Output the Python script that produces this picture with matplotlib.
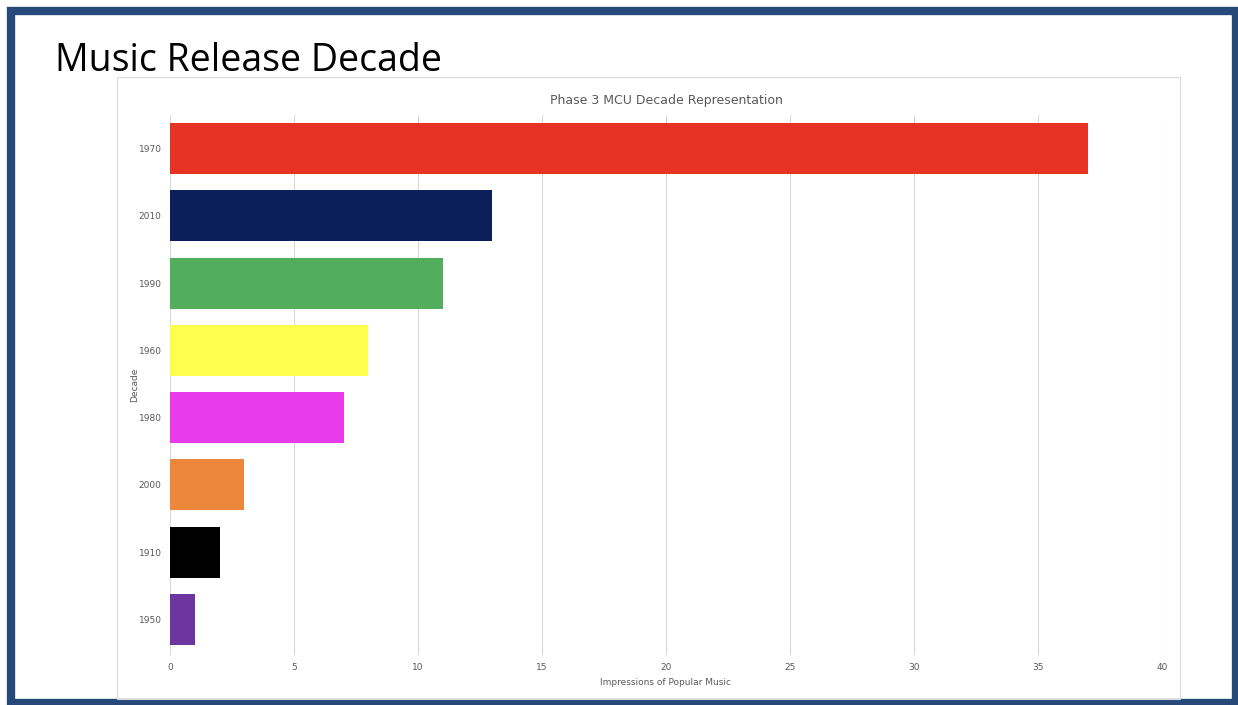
import matplotlib.pyplot as plt
from matplotlib.patches import Rectangle

# Data (top to bottom as shown)
decades = ["1970", "2010", "1990", "1960", "1980", "2000", "1910", "1950"]
impressions = [37, 13, 11, 8, 7, 3, 2, 1]
bar_colors = ["#E63323", "#0B1F5B", "#52AE5C", "#FFFD4E",
              "#E83CEB", "#EC873C", "#000000", "#6C35A0"]
x_ticks = [0, 5, 10, 15, 20, 25, 30, 35, 40]

W, H = 1238, 705
fig = plt.figure(figsize=(W / 100, H / 100), dpi=100)
fig.patch.set_facecolor("white")

# slide border
fig.patches.append(Rectangle((11 / W, 1 - 702.5 / H), (1235.5 - 11) / W, (702.5 - 11) / H,
                             transform=fig.transFigure, fill=False,
                             edgecolor="#27497A", linewidth=6, zorder=0))
# chart object frame
fig.patches.append(Rectangle((117 / W, 1 - 699 / H), (1180 - 117) / W, (699 - 77) / H,
                             transform=fig.transFigure, fill=False,
                             edgecolor="#D9D9D9", linewidth=0.8, zorder=0))

fig.text(55 / W, 1 - 61 / H, "Music Release Decade", fontsize=27,
         family="Open Sans", va="center", ha="left", color="black")

ax = fig.add_axes([170 / W, 1 - 655 / H, (1162 - 170) / W, (655 - 115) / H])
y = list(range(len(decades)))
ax.barh(y, impressions, height=0.76, color=bar_colors, zorder=2)
ax.set_ylim(len(decades) - 0.47, -0.5)
ax.set_xlim(0, 40)
ax.set_xticks(x_ticks)
ax.set_yticks(y)
ax.set_yticklabels(decades)
ax.grid(axis="x", color="#D9D9D9", linewidth=0.8, zorder=0)
for s in ax.spines.values():
    s.set_visible(False)
ax.tick_params(length=0, labelsize=6.5, labelcolor="#595959")
ax.tick_params(axis="y", pad=6)
ax.tick_params(axis="x", pad=6)
ax.set_xlabel("Impressions of Popular Music", fontsize=6.5, color="#595959", labelpad=4)
ax.set_ylabel("Decade", fontsize=6.5, color="#595959", labelpad=0)
ax.set_title("Phase 3 MCU Decade Representation", fontsize=9, color="#595959", pad=8)

fig.savefig("out.png", dpi=100)
